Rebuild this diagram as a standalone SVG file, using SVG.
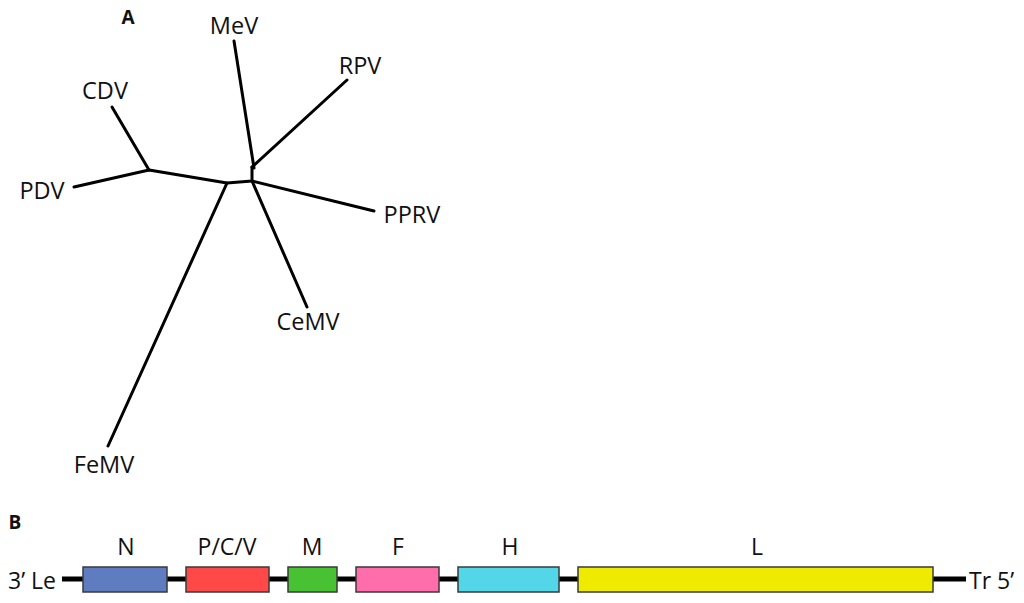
<svg xmlns="http://www.w3.org/2000/svg" width="1024" height="603" viewBox="0 0 1024 603">
<style>
.t{font-family:"Open Sans","Liberation Sans",sans-serif;font-size:23.5px;fill:#111}
.g{font-family:"Open Sans","Liberation Sans",sans-serif;font-size:23px;fill:#111}
.h{font-family:"Open Sans","Liberation Sans",sans-serif;font-size:19px;font-weight:bold;fill:#111}
.br{stroke:#000;stroke-width:3;fill:none;stroke-linecap:round;stroke-linejoin:round}
.box{stroke:#3a3a3a;stroke-width:1.5}
</style>
<rect width="1024" height="603" fill="#fff"/>
<text class="h" x="128" y="24" text-anchor="middle">A</text>
<g id="connectors">
<path class="br" d="M74 187 L149 170 L227 183 L252 181 L252 167"/>
<path class="br" d="M112 107 L149 170"/>
<path class="br" d="M234 41 L254 168"/>
<path class="br" d="M347 80 L252 167"/>
<path class="br" d="M252 181 L374 211"/>
<path class="br" d="M252 181 L307 307"/>
<path class="br" d="M227 183 L108 446"/>
</g>
<g id="MeV"><text class="t" x="234" y="34" text-anchor="middle">MeV</text></g>
<g id="RPV"><text class="t" x="360" y="74" text-anchor="middle">RPV</text></g>
<g id="CDV"><text class="t" x="105" y="99" text-anchor="middle">CDV</text></g>
<g id="PDV"><text class="t" x="42" y="199" text-anchor="middle">PDV</text></g>
<g id="PPRV"><text class="t" x="412" y="223" text-anchor="middle">PPRV</text></g>
<g id="CeMV"><text class="t" x="308" y="330" text-anchor="middle">CeMV</text></g>
<g id="FeMV"><text class="t" x="104" y="473" text-anchor="middle">FeMV</text></g>

<text class="h" x="15" y="529" text-anchor="middle">B</text>
<g id="genome-backbone"><line x1="62" y1="579" x2="966" y2="579" stroke="#000" stroke-width="5"/></g>
<g id="gene-N"><rect class="box" x="83" y="567" width="84" height="25" fill="#5f7cc0"/><text class="g" x="126" y="555" text-anchor="middle">N</text></g>
<g id="gene-PCV"><rect class="box" x="186" y="567" width="83" height="25" fill="#ff4848"/><text class="g" x="227" y="555" text-anchor="middle">P/C/V</text></g>
<g id="gene-M"><rect class="box" x="288" y="567" width="49" height="25" fill="#48c232"/><text class="g" x="312" y="555" text-anchor="middle">M</text></g>
<g id="gene-F"><rect class="box" x="356" y="567" width="83" height="25" fill="#ff6eaa"/><text class="g" x="398" y="555" text-anchor="middle">F</text></g>
<g id="gene-H"><rect class="box" x="458" y="567" width="101" height="25" fill="#52d6e8"/><text class="g" x="510" y="555" text-anchor="middle">H</text></g>
<g id="gene-L"><rect class="box" x="578" y="567" width="355" height="25" fill="#eeea00"/><text class="g" x="757" y="555" text-anchor="middle">L</text></g>
<g id="label-3Le"><text class="g" x="8" y="589">3’ Le</text></g>
<g id="label-Tr5"><text class="g" x="969" y="589">Tr 5’</text></g>
</svg>
